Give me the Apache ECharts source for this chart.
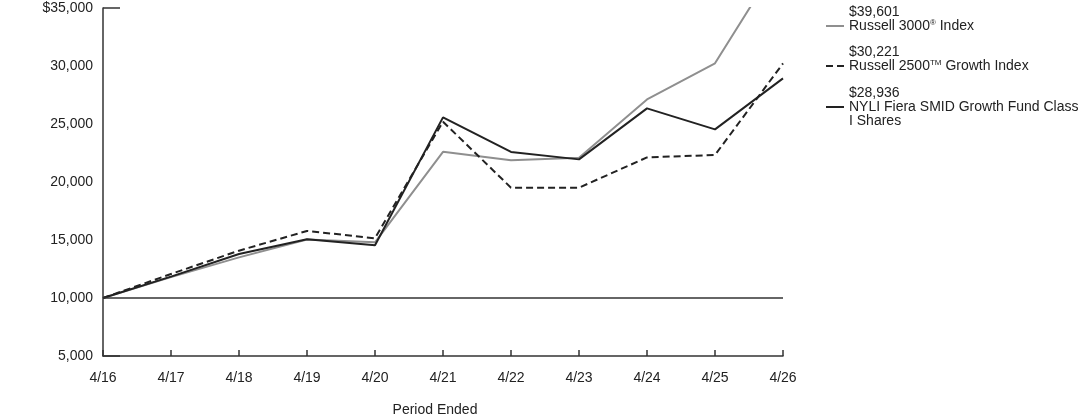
<!DOCTYPE html>
<html>
<head>
<meta charset="utf-8">
<script src="https://cdn.jsdelivr.net/npm/echarts@6/dist/echarts.min.js"></script>
<style>
  html, body { margin: 0; padding: 0; background: #fff; }
  #chart { width: 1092px; height: 417px; }
</style>
</head>
<body>
<div id="chart"></div>
<script>
const periods = ["4/16", "4/17", "4/18", "4/19", "4/20", "4/21", "4/22", "4/23", "4/24", "4/25", "4/26"];

const russell3000 = [10000, 11800, 13500, 15050, 14800, 22600, 21870, 22100, 27120, 30230, 39601];
const russell2500g = [10000, 12070, 14080, 15780, 15150, 25200, 19510, 19510, 22120, 22330, 30221];
const fund = [10000, 11840, 13790, 15060, 14540, 25570, 22590, 21950, 26350, 24540, 28936];

const seriesNames = ["Russell 3000® Index", "Russell 2500™ Growth Index", "NYLI Fiera SMID Growth Fund Class I Shares"];
const endValues = ["$39,601", "$30,221", "$28,936"];
// 범례 표시용 (윗첨자는 rich 스타일)
const legendLabels = [
  "Russell 3000{sup|®} Index",
  "Russell 2500{sup|TM} Growth Index",
  "NYLI Fiera SMID Growth Fund Class\nI Shares",
];

const yTickLabels = { 5000: "5,000", 10000: "10,000", 15000: "15,000", 20000: "20,000", 25000: "25,000", 30000: "30,000", 35000: "$35,000" };

const FONT = "Liberation Sans, Arial, sans-serif";
const ink = "#222";

const chart = echarts.init(document.getElementById("chart"));

const legendTops = [5, 45, 86];
const legends = seriesNames.map((name, i) => ({
  data: [name],
  left: 825,
  top: legendTops[i],
  padding: 0,
  orient: "vertical",
  itemWidth: 18,
  itemHeight: 14,
  selectedMode: false,
  itemStyle: { opacity: 0 },
  formatter: () => {
    const lines = legendLabels[i].split("\n");
    let txt = endValues[i] + "\n" + lines.join("\n");
    if (lines.length < 2) txt += "\n ";
    return txt;
  },
  textStyle: {
    fontFamily: FONT,
    fontSize: 14,
    color: ink,
    lineHeight: 14,
    rich: {
      sup: { fontSize: 8, lineHeight: 14, verticalAlign: "top", padding: [0, 0, 4, 0], fontFamily: FONT, color: ink },
    },
  },
}));

const option = {
  animation: false,
  textStyle: { fontFamily: FONT },
  grid: { left: 103, right: 309, top: 8, bottom: 61, outerBoundsMode: "none", containLabel: false },
  legend: legends,
  xAxis: {
    type: "category",
    data: periods,
    boundaryGap: false,
    name: "Period Ended",
    nameLocation: "middle",
    nameGap: 47,
    nameTextStyle: { fontSize: 14, color: ink, padding: [0, 16, 0, 0] },
    axisLine: { lineStyle: { color: "#333", width: 1.5 } },
    axisTick: { inside: true, length: 6, lineStyle: { color: "#333", width: 1.5 } },
    axisLabel: { fontSize: 14, color: ink, margin: 15 },
    splitLine: { show: false },
  },
  yAxis: [
    {
      type: "value",
      min: 5000,
      max: 35000,
      interval: 5000,
      axisLine: { show: true, lineStyle: { color: "#333", width: 1.5 } },
      axisTick: { show: false },
      splitLine: { show: false },
      axisLabel: {
        fontSize: 14,
        color: ink,
        margin: 10,
        formatter: (v) => yTickLabels[v],
      },
    },
    {
      // 맨 위 짧은 눈금 표시용
      type: "value",
      position: "left",
      min: 5000,
      max: 35000,
      interval: 30000,
      axisLine: { show: false },
      axisLabel: { show: false },
      splitLine: { show: false },
      axisTick: { show: true, inside: true, length: 17, lineStyle: { color: "#333", width: 1.5 } },
    },
  ],
  series: [
    {
      name: seriesNames[0],
      type: "line",
      data: russell3000,
      symbol: "none",
      lineStyle: { color: "#8f8f8f", width: 2 },
      itemStyle: { color: "#8f8f8f" },
      z: 2,
      markLine: {
        silent: true,
        symbol: "none",
        label: { show: false },
        lineStyle: { color: "#333", width: 1.5, type: "solid" },
        data: [{ yAxis: 10000 }],
      },
    },
    {
      name: seriesNames[1],
      type: "line",
      data: russell2500g,
      symbol: "none",
      lineStyle: { color: ink, width: 2, type: [7, 4] },
      itemStyle: { color: ink },
      z: 3,
    },
    {
      name: seriesNames[2],
      type: "line",
      data: fund,
      symbol: "none",
      lineStyle: { color: ink, width: 2 },
      itemStyle: { color: ink },
      z: 4,
    },
  ],
};

chart.setOption(option);
</script>
</body>
</html>
